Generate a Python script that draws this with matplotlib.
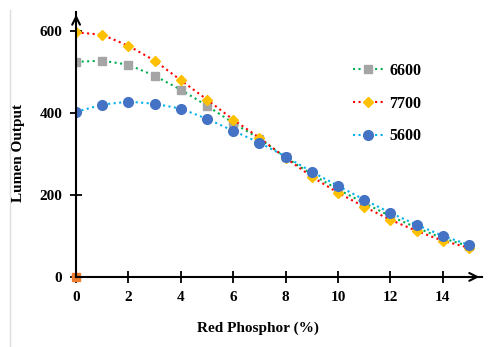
import numpy as np
import matplotlib.pyplot as plt
from matplotlib.lines import Line2D

# Red phosphor concentration (%)
phosphor = [0, 1, 2, 3, 4, 5, 6, 7, 8, 9, 10, 11, 12, 13, 14, 15]

# Lumen output for each CCT
lm_6600 = [524, 527, 517, 490, 456, 417, 375, 337, 291, 250, 213, 180, 148, 120, 94, 75]
lm_7700 = [596, 590, 563, 527, 479, 432, 383, 339, 290, 244, 205, 171, 139, 112, 88, 71]
lm_5600 = [402, 420, 427, 422, 410, 385, 356, 327, 293, 256, 222, 188, 156, 127, 100, 78]

plt.rcParams['font.family'] = ['Liberation Serif', 'DejaVu Serif']
plt.rcParams['font.weight'] = 'bold'

fig = plt.figure(figsize=(4.91, 3.47), dpi=100)
ax = fig.add_axes([0.155, 0.202, 0.827, 0.764])

ax.plot(phosphor, lm_6600, linestyle=':', color='#00B050', lw=1.5,
        marker='s', markersize=5.5, markerfacecolor='#A5A5A5', markeredgecolor='#A5A5A5', label='6600')
ax.plot(phosphor, lm_7700, linestyle=':', color='#FF0000', lw=1.5,
        marker='D', markersize=5.5, markerfacecolor='#FFC000', markeredgecolor='#FFC000', label='7700')
ax.plot(phosphor, lm_5600, linestyle=':', color='#00B0F0', lw=1.5,
        marker='o', markersize=7, markerfacecolor='#4472C4', markeredgecolor='#4472C4', label='5600')
ax.plot([0], [0], marker='s', markersize=6, color='#ED7D31', linestyle='none', clip_on=False)

ax.set_xlim(0, 15.5)
ax.set_ylim(0, 646)
ax.set_xticks(range(0, 15, 2))
ax.set_yticks([0, 200, 400, 600])

for s in ['top', 'right']:
    ax.spines[s].set_visible(False)
for s in ['left', 'bottom']:
    ax.spines[s].set_linewidth(1.5)
    ax.spines[s].set_color('black')

ax.tick_params(direction='inout', length=8, width=1.3, labelsize=11, pad=6)

# arrow heads on the axes
ax.annotate('', xy=(1.0, 0), xytext=(0.97, 0), xycoords='axes fraction',
            arrowprops=dict(arrowstyle='->', color='black', lw=1.5, mutation_scale=14))
ax.annotate('', xy=(0, 1.0), xytext=(0, 0.96), xycoords='axes fraction',
            arrowprops=dict(arrowstyle='->', color='black', lw=1.5, mutation_scale=14))

fig.text(0.037, 0.56, 'Lumen Output', rotation=90, ha='center', va='center',
         fontsize=11, fontweight='bold')
fig.text(0.525, 0.055, 'Red Phosphor (%)', ha='center', va='center',
         fontsize=11, fontweight='bold')

fig.legend(loc='upper left', bbox_to_anchor=(0.69, 0.86), frameon=False,
           fontsize=11.5, handlelength=1.9, labelspacing=1.05, handletextpad=0.35)

# faint border line on the left
fig.add_artist(Line2D([0.021, 0.021], [0.0, 0.97], color='#DDDDDD', lw=1))

fig.savefig('out.png', dpi=100)
